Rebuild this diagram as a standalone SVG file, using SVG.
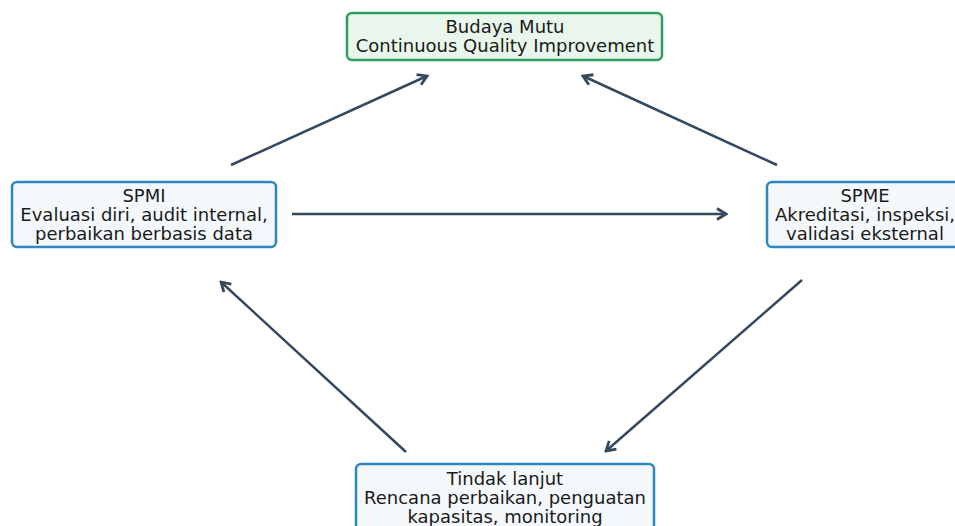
<svg xmlns="http://www.w3.org/2000/svg" width="955" height="526" viewBox="0 0 955 526">
<defs>
<style>
.t{font-family:"DejaVu Sans",sans-serif;font-size:18px;fill:#1a1a1a;text-anchor:middle}
.bx{fill:#f4f8fb;stroke:#2e86c1;stroke-width:2.5}
.gx{fill:#e8f6ec;stroke:#2e9e5a;stroke-width:2.5}
.c{stroke:#34495e;stroke-width:2.5;fill:none;marker-end:url(#ah)}
</style>
<marker id="ah" viewBox="0 0 14 14" refX="12" refY="7" markerWidth="14" markerHeight="14" markerUnits="userSpaceOnUse" orient="auto">
<path d="M3,1.5 L12,7 L3,12.5" fill="none" stroke="#34495e" stroke-width="2.8"/>
</marker>
</defs>
<rect width="955" height="526" fill="#ffffff"/>
<g id="connectors">
<line class="c" x1="231" y1="165" x2="427" y2="76"/>
<line class="c" x1="777" y1="165" x2="583" y2="76"/>
<line class="c" x1="292" y1="214" x2="726" y2="214"/>
<line class="c" x1="802" y1="280" x2="606" y2="451"/>
<line class="c" x1="406" y1="452" x2="221" y2="282"/>
</g>
<g id="budaya">
<rect class="gx" x="347" y="13" width="315" height="47" rx="5"/>
<text class="t" x="505" y="33">Budaya Mutu</text>
<text class="t" x="505" y="52">Continuous Quality Improvement</text>
</g>
<g id="spmi">
<rect class="bx" x="12" y="182" width="264" height="65" rx="5"/>
<text class="t" x="144" y="202">SPMI</text>
<text class="t" x="144" y="221">Evaluasi diri, audit internal,</text>
<text class="t" x="144" y="240">perbaikan berbasis data</text>
</g>
<g id="spme">
<rect class="bx" x="767" y="182" width="200" height="65" rx="5"/>
<text class="t" x="865" y="202">SPME</text>
<text class="t" x="865" y="221">Akreditasi, inspeksi,</text>
<text class="t" x="865" y="240">validasi eksternal</text>
</g>
<g id="tindak">
<rect class="bx" x="356" y="464" width="298" height="75" rx="5"/>
<text class="t" x="505" y="485">Tindak lanjut</text>
<text class="t" x="505" y="504">Rencana perbaikan, penguatan</text>
<text class="t" x="505" y="523">kapasitas, monitoring</text>
</g>
</svg>
